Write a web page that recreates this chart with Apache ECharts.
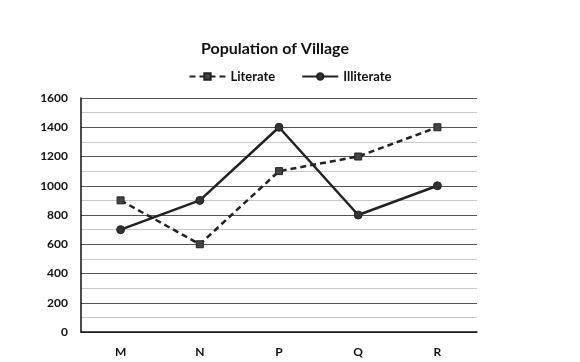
<!DOCTYPE html>
<html><head><meta charset="utf-8">
<script src="https://cdn.jsdelivr.net/npm/echarts@6/dist/echarts.min.js"></script>
<style>html,body{margin:0;padding:0;background:#fff}#c{width:580px;height:362px}</style>
</head><body><div id="c"></div>
<script>
var categories = ['M', 'N', 'P', 'Q', 'R'];
var literate = [900, 600, 1100, 1200, 1400];
var illiterate = [700, 900, 1400, 800, 1000];
var titleText = 'Population of Village';
var seriesNames = ['Literate', 'Illiterate'];

var font = 'Lato, "Open Sans", sans-serif';
var chart = echarts.init(document.getElementById('c'), null, {renderer: 'canvas'});
chart.setOption({
  animation: false,
  backgroundColor: '#fff',
  title: {
    text: titleText, left: 270, top: 36, textAlign: 'center',
    textStyle: {fontFamily: font, fontWeight: 'bold', fontSize: 16, color: '#111'}
  },
  legend: {
    data: seriesNames, left: 'center', top: 65, itemWidth: 36, itemHeight: 8, itemGap: 26,
    textStyle: {fontFamily: font, fontWeight: 'bold', fontSize: 13, color: '#111'}
  },
  grid: {left: 81, right: 103, top: 98, bottom: 30, containLabel: false},
  xAxis: {
    type: 'category', data: categories, boundaryGap: true,
    axisLine: {lineStyle: {color: '#111', width: 1.5}},
    axisTick: {show: false},
    axisLabel: {margin: 14, fontFamily: font, fontWeight: 'bold', fontSize: 12, color: '#111'}
  },
  yAxis: {
    type: 'value', min: 0, max: 1600, interval: 200,
    axisLine: {show: true, lineStyle: {color: '#111', width: 1.5}},
    axisTick: {show: false},
    axisLabel: {margin: 13, fontFamily: font, fontWeight: 'bold', fontSize: 12, color: '#111',
      formatter: function (v) { return String(v); }},
    splitLine: {lineStyle: {color: '#555', width: 1}},
    minorTick: {show: false, splitNumber: 2},
    minorSplitLine: {show: true, lineStyle: {color: '#c8c8c8', width: 1}}
  },
  series: [
    {
      name: seriesNames[0], type: 'line', data: literate,
      symbol: 'rect', symbolSize: 7,
      lineStyle: {color: '#222', width: 2.5, type: [6, 4]},
      itemStyle: {color: '#444', borderColor: '#222', borderWidth: 1}
    },
    {
      name: seriesNames[1], type: 'line', data: illiterate,
      symbol: 'circle', symbolSize: 8,
      lineStyle: {color: '#222', width: 2.5},
      itemStyle: {color: '#333', borderColor: '#222', borderWidth: 1}
    }
  ]
});
</script></body></html>
